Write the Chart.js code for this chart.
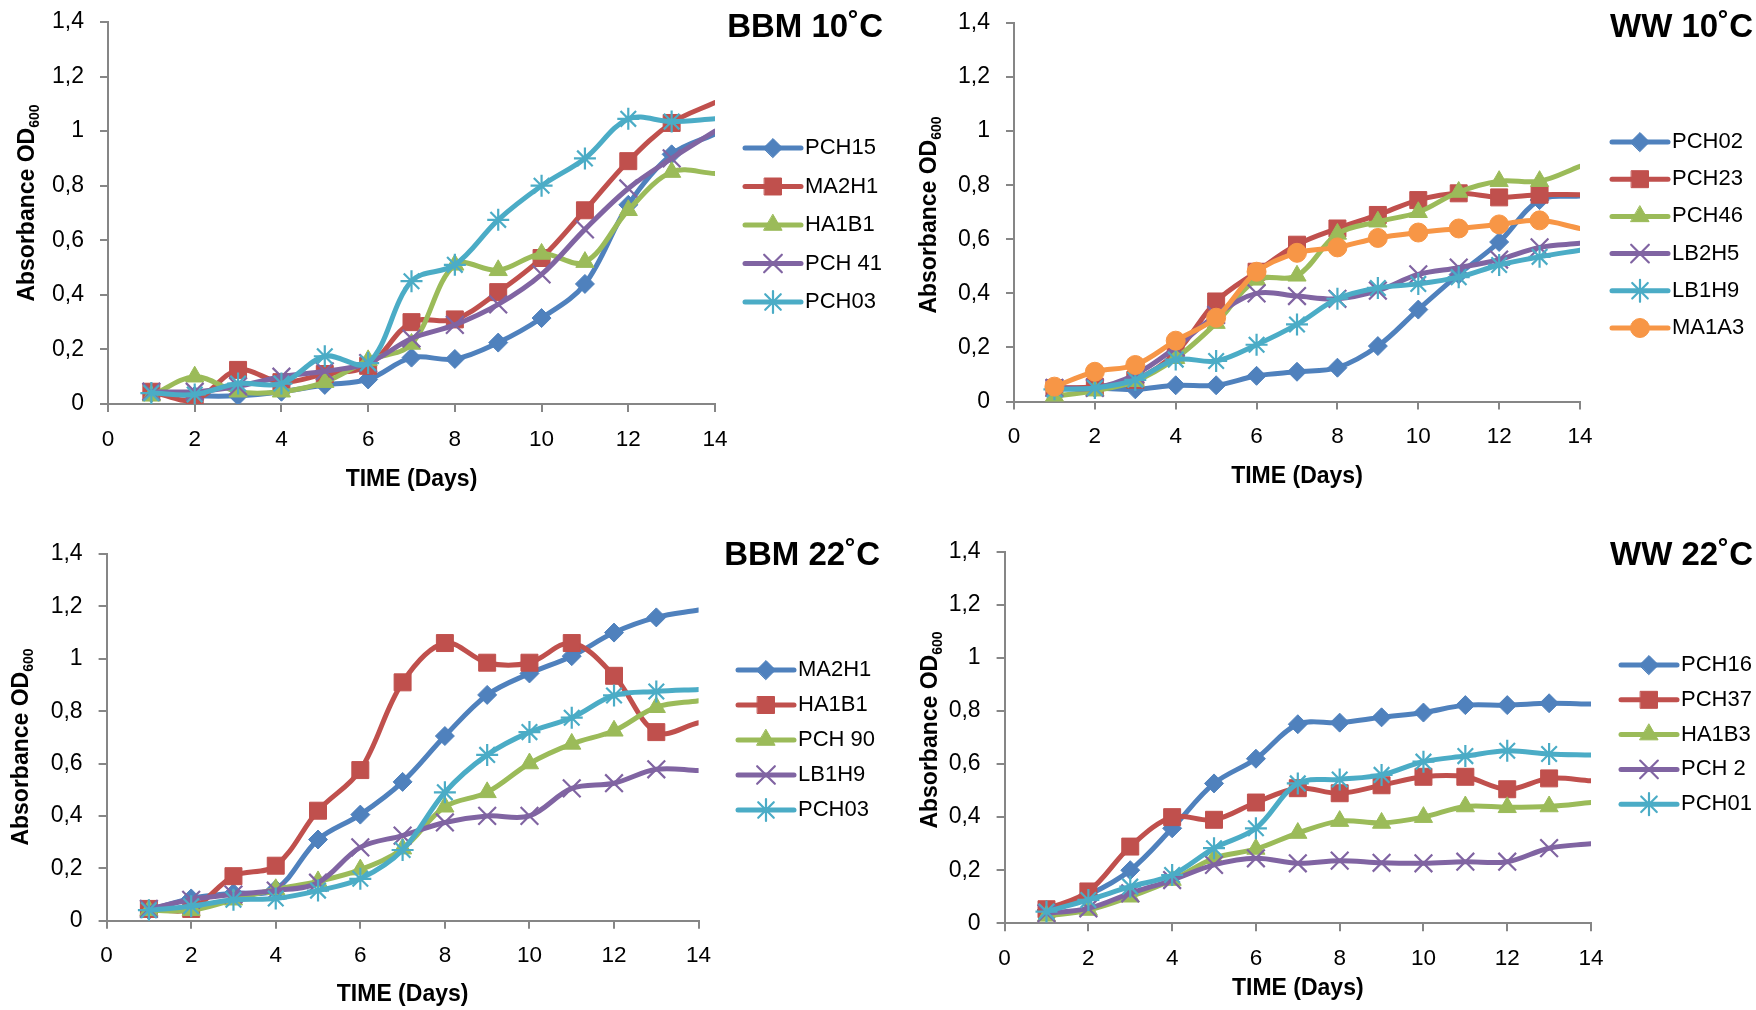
<!DOCTYPE html>
<html>
<head>
<meta charset="utf-8">
<title>Absorbance growth curves</title>
<script src="https://cdn.jsdelivr.net/npm/chart.js@4.4.1/dist/chart.umd.min.js"></script>
<style>
  body { margin: 0; background: #fff; width: 1756px; height: 1010px; position: relative; overflow: hidden; }
  canvas { position: absolute; }
</style>
</head>
<body>
<canvas id="bbm10" width="890" height="505" style="left:0;top:0"></canvas>
<canvas id="ww10" width="866" height="505" style="left:890px;top:0"></canvas>
<canvas id="bbm22" width="890" height="505" style="left:0;top:505px"></canvas>
<canvas id="ww22" width="866" height="505" style="left:890px;top:505px"></canvas>
<script>
// days on the x axis and tick values
const days = [1, 2, 3, 4, 5, 6, 7, 8, 9, 10, 11, 12, 13, 14];
const xTicks = [0, 2, 4, 6, 8, 10, 12, 14];
const yTicks = [0, 0.2, 0.4, 0.6, 0.8, 1, 1.2, 1.4];

// BBM 10˚C
const bbm10Names = ['PCH15', 'MA2H1', 'HA1B1', 'PCH 41', 'PCH03'];
const bbm10PCH15 = [0.04, 0.03, 0.03, 0.045, 0.07, 0.09, 0.17, 0.165, 0.225, 0.315, 0.44, 0.73, 0.915, 0.99];
const bbm10MA2H1 = [0.045, 0.015, 0.125, 0.08, 0.11, 0.14, 0.30, 0.31, 0.41, 0.535, 0.71, 0.89, 1.03, 1.105];
const bbm10HA1B1 = [0.03, 0.1, 0.045, 0.045, 0.08, 0.16, 0.22, 0.51, 0.49, 0.55, 0.52, 0.71, 0.85, 0.845];
const bbm10PCH41 = [0.045, 0.045, 0.065, 0.1, 0.12, 0.15, 0.24, 0.29, 0.365, 0.475, 0.64, 0.79, 0.9, 1.0];
const bbm10PCH03 = [0.04, 0.035, 0.075, 0.075, 0.175, 0.15, 0.45, 0.51, 0.675, 0.8, 0.9, 1.045, 1.035, 1.045];

// WW 10˚C
const ww10Names = ['PCH02', 'PCH23', 'PCH46', 'LB2H5', 'LB1H9', 'MA1A3'];
const ww10PCH02 = [0.05, 0.05, 0.045, 0.06, 0.06, 0.095, 0.11, 0.125, 0.205, 0.34, 0.47, 0.59, 0.745, 0.76];
const ww10PCH23 = [0.05, 0.055, 0.08, 0.18, 0.37, 0.48, 0.58, 0.64, 0.69, 0.745, 0.77, 0.755, 0.765, 0.765];
const ww10PCH46 = [0.02, 0.04, 0.075, 0.16, 0.29, 0.45, 0.465, 0.62, 0.665, 0.70, 0.775, 0.815, 0.815, 0.87];
const ww10LB2H5 = [0.05, 0.05, 0.1, 0.2, 0.32, 0.40, 0.39, 0.38, 0.41, 0.47, 0.495, 0.525, 0.57, 0.585];
const ww10LB1H9 = [0.045, 0.05, 0.08, 0.155, 0.15, 0.21, 0.285, 0.38, 0.42, 0.435, 0.46, 0.505, 0.535, 0.56];
const ww10MA1A3 = [0.055, 0.11, 0.135, 0.225, 0.31, 0.48, 0.55, 0.57, 0.605, 0.625, 0.64, 0.655, 0.67, 0.64];

// BBM 22˚C
const bbm22Names = ['MA2H1', 'HA1B1', 'PCH 90', 'LB1H9', 'PCH03'];
const bbm22MA2H1 = [0.04, 0.085, 0.105, 0.12, 0.31, 0.405, 0.53, 0.705, 0.862, 0.944, 1.01, 1.1, 1.158, 1.186];
const bbm22HA1B1 = [0.045, 0.045, 0.17, 0.21, 0.42, 0.575, 0.91, 1.06, 0.985, 0.985, 1.06, 0.935, 0.72, 0.756];
const bbm22PCH90 = [0.04, 0.04, 0.08, 0.12, 0.15, 0.195, 0.275, 0.435, 0.49, 0.6, 0.675, 0.725, 0.815, 0.84];
const bbm22LB1H9 = [0.045, 0.08, 0.1, 0.115, 0.145, 0.28, 0.325, 0.375, 0.4, 0.4, 0.505, 0.525, 0.578, 0.573];
const bbm22PCH03 = [0.04, 0.055, 0.08, 0.085, 0.115, 0.16, 0.27, 0.49, 0.633, 0.72, 0.775, 0.86, 0.875, 0.883];

// WW 22˚C
const ww22Names = ['PCH16', 'PCH37', 'HA1B3', 'PCH 2', 'PCH01'];
const ww22PCH16 = [0.05, 0.107, 0.2, 0.358, 0.527, 0.62, 0.75, 0.756, 0.776, 0.794, 0.822, 0.822, 0.829, 0.826];
const ww22PCH37 = [0.053, 0.12, 0.289, 0.40, 0.39, 0.455, 0.509, 0.49, 0.52, 0.552, 0.552, 0.505, 0.546, 0.537];
const ww22HA1B3 = [0.028, 0.05, 0.1, 0.163, 0.245, 0.28, 0.34, 0.385, 0.378, 0.4, 0.44, 0.437, 0.44, 0.455];
const ww22PCH2 = [0.038, 0.056, 0.113, 0.163, 0.22, 0.245, 0.226, 0.236, 0.228, 0.226, 0.232, 0.232, 0.283, 0.3];
const ww22PCH01 = [0.044, 0.088, 0.138, 0.182, 0.283, 0.358, 0.527, 0.542, 0.559, 0.609, 0.63, 0.65, 0.638, 0.634];

const colors = ['#4F81BD', '#C0504D', '#9BBB59', '#8064A2', '#4BACC6', '#F79646'];
const markers = ['rectRot', 'rect', 'triangle', 'crossRot', 'star', 'circle'];
const markerRadius = [9.5, 12, 10.5, 12.5, 11, 9.5];
const axisColor = '#868686';
const fontFamily = "'Liberation Sans', Arial, sans-serif";

// draws the legend (line + marker + name) to the right of the plot
const sideLegend = {
  id: 'sideLegend',
  afterDraw(chart, args, o) {
    const ctx = chart.ctx;
    chart.data.datasets.forEach((ds, i) => {
      const y = o.y + i * o.step;
      ctx.save();
      ctx.strokeStyle = ds.borderColor;
      ctx.lineWidth = ds.borderWidth;
      ctx.lineCap = 'round';
      ctx.beginPath();
      ctx.moveTo(o.x, y);
      ctx.lineTo(o.x + o.len, y);
      ctx.stroke();
      ctx.fillStyle = ds.pointBackgroundColor;
      ctx.strokeStyle = ds.pointBorderColor;
      ctx.lineWidth = ds.pointBorderWidth;
      Chart.helpers.drawPoint(ctx, {
        pointStyle: ds.pointStyle, radius: markerRadius[i], rotation: 0, borderWidth: ds.pointBorderWidth
      }, o.x + o.len / 2, y);
      ctx.fillStyle = '#000';
      ctx.font = o.fontSize + 'px ' + fontFamily;
      ctx.textBaseline = 'middle';
      ctx.textAlign = 'left';
      ctx.fillText(ds.label, o.x + o.len + 4, y);
      ctx.restore();
    });
  }
};

// bold panel title in the top right corner
const panelTitle = {
  id: 'panelTitle',
  afterDraw(chart, args, o) {
    const ctx = chart.ctx;
    ctx.save();
    ctx.fillStyle = '#000';
    ctx.font = 'bold 33px ' + fontFamily;
    ctx.textAlign = 'right';
    ctx.textBaseline = 'alphabetic';
    ctx.fillText(o.text, o.x, o.y);
    ctx.restore();
  }
};

// rotated y title with a real subscript
const yTitle = {
  id: 'yTitle',
  afterDraw(chart, args, o) {
    const ctx = chart.ctx;
    const main = 'Absorbance OD', sub = '600';
    ctx.save();
    ctx.translate(o.x, o.y);
    ctx.rotate(-Math.PI / 2);
    ctx.fillStyle = '#000';
    ctx.textAlign = 'left';
    ctx.textBaseline = 'alphabetic';
    ctx.font = 'bold 23px ' + fontFamily;
    const w1 = ctx.measureText(main).width;
    ctx.font = 'bold 14px ' + fontFamily;
    const w2 = ctx.measureText(sub).width;
    const x0 = -(w1 + w2) / 2;
    ctx.font = 'bold 23px ' + fontFamily;
    ctx.fillText(main, x0, 0);
    ctx.font = 'bold 14px ' + fontFamily;
    ctx.fillText(sub, x0 + w1, 5);
    ctx.restore();
  }
};

function buildChart(id, title, names, series, L) {
  const n = series.length;
  const datasets = series.map((vals, i) => ({
    label: names[i],
    data: vals.map((v, k) => ({ x: days[k], y: v })),
    borderColor: colors[i],
    backgroundColor: colors[i],
    borderWidth: 5,
    borderJoinStyle: 'round',
    borderCapStyle: 'round',
    tension: 0.35,
    pointStyle: markers[i],
    pointRadius: c => c.dataIndex === days.length - 1 ? 0 : markerRadius[i],
    pointBackgroundColor: colors[i],
    pointBorderColor: colors[i],
    pointBorderWidth: (markers[i] === 'crossRot' || markers[i] === 'star') ? 2.2 : 1,
    order: n - i
  }));

  new Chart(document.getElementById(id), {
    type: 'line',
    data: { datasets: datasets },
    plugins: [sideLegend, panelTitle, yTitle],
    options: {
      responsive: false,
      animation: false,
      devicePixelRatio: 1,
      layout: { padding: { left: 0, top: L.padT, right: L.padR, bottom: 0 } },
      plugins: {
        legend: { display: false },
        tooltip: { enabled: false },
        sideLegend: { x: L.legX, y: L.legY, step: L.legStep, len: 56, fontSize: 22 },
        panelTitle: { text: title, x: L.titleX, y: L.titleY },
        yTitle: { x: L.yTitleX, y: L.yTitleY }
      },
      scales: {
        x: {
          type: 'linear', min: 0, max: 14,
          afterBuildTicks: s => { s.ticks = xTicks.map(v => ({ value: v })); },
          afterFit: s => { s.height = L.xAxisH; s.paddingLeft = 0; s.paddingRight = 0; },
          grid: { drawOnChartArea: false, drawTicks: true, tickLength: 8, color: axisColor, lineWidth: 2 },
          border: { display: true, color: axisColor, width: 2 },
          ticks: { color: '#000', padding: 14, maxRotation: 0, autoSkip: false, font: { family: fontFamily, size: 22.5 } },
          title: {
            display: true, text: 'TIME (Days)', color: '#000',
            font: { family: fontFamily, size: 23, weight: 'bold' },
            padding: { top: 0, bottom: L.xTitlePad }
          }
        },
        y: {
          type: 'linear', min: 0, max: 1.4,
          afterBuildTicks: s => { s.ticks = yTicks.map(v => ({ value: v })); },
          afterFit: s => { s.width = L.yAxisW; s.paddingTop = 0; s.paddingBottom = 0; },
          grid: { drawOnChartArea: false, drawTicks: true, tickLength: 8, color: axisColor, lineWidth: 2 },
          border: { display: true, color: axisColor, width: 2 },
          ticks: {
            color: '#000', padding: 16, font: { family: fontFamily, size: 23 },
            callback: v => String(Math.round(v * 10) / 10).replace('.', ',')
          },
          title: { display: false }
        }
      }
    }
  });
}

buildChart('bbm10', 'BBM 10˚C', bbm10Names,
  [bbm10PCH15, bbm10MA2H1, bbm10HA1B1, bbm10PCH41, bbm10PCH03],
  { yAxisW: 108, xAxisH: 101, padT: 22, padR: 175, xTitlePad: 12, yTitleX: 34, yTitleY: 203,
    legX: 745, legY: 148, legStep: 38.5, titleX: 883, titleY: 37 });

buildChart('ww10', 'WW 10˚C', ww10Names,
  [ww10PCH02, ww10PCH23, ww10PCH46, ww10LB2H5, ww10LB1H9, ww10MA1A3],
  { yAxisW: 124, xAxisH: 103.5, padT: 23, padR: 176, xTitlePad: 15, yTitleX: 46, yTitleY: 215,
    legX: 722, legY: 142, legStep: 37.2, titleX: 863, titleY: 37 });

buildChart('bbm22', 'BBM 22˚C', bbm22Names,
  [bbm22MA2H1, bbm22HA1B1, bbm22PCH90, bbm22LB1H9, bbm22PCH03],
  { yAxisW: 106.6, xAxisH: 89.3, padT: 49, padR: 191.4, xTitlePad: 2, yTitleX: 28, yTitleY: 242,
    legX: 738, legY: 165, legStep: 35, titleX: 880, titleY: 60 });

buildChart('ww22', 'WW 22˚C', ww22Names,
  [ww22PCH16, ww22PCH37, ww22HA1B3, ww22PCH2, ww22PCH01],
  { yAxisW: 114.6, xAxisH: 86.7, padT: 46.7, padR: 165, xTitlePad: 8, yTitleX: 47, yTitleY: 225,
    legX: 731, legY: 160, legStep: 34.8, titleX: 863, titleY: 60 });
</script>
</body>
</html>
